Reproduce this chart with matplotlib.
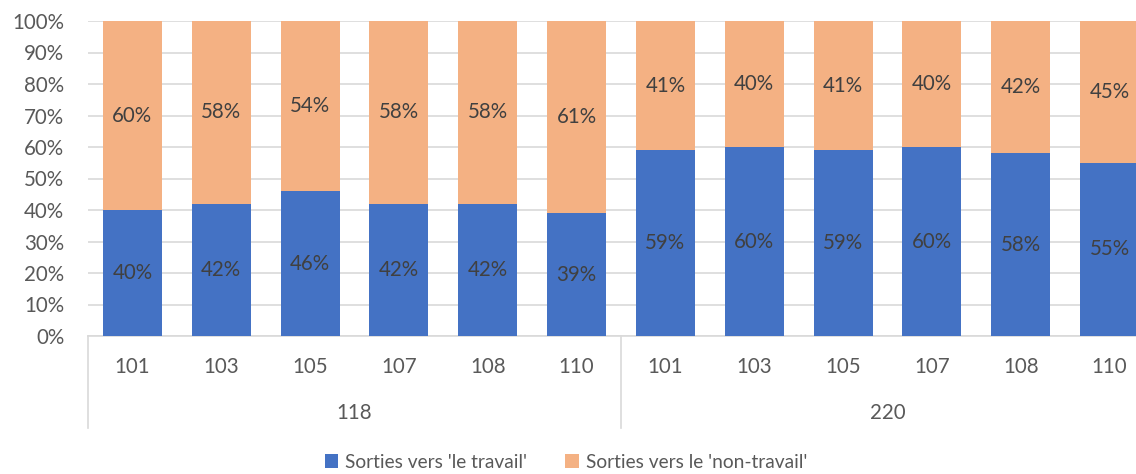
import matplotlib.pyplot as plt
import numpy as np

groups = ["118", "220"]
codes = ["101", "103", "105", "107", "108", "110"]
travail = [40, 42, 46, 42, 42, 39, 59, 60, 59, 60, 58, 55]
non_travail = [60, 58, 54, 58, 58, 61, 41, 40, 41, 40, 42, 45]

blue = "#4472C4"
orange = "#F4B183"
txt = "#595959"
fs = 14.8

plt.rcParams['font.family'] = ['Lato', 'DejaVu Sans']

fig = plt.figure(figsize=(11.36, 4.74), dpi=100)
ax = fig.add_axes([88 / 1136, 1 - 336 / 474, 1066 / 1136, 315 / 474])

x = np.arange(len(travail))
b1 = ax.bar(x, travail, width=0.665, color=blue, label="Sorties vers 'le travail'", zorder=3)
b2 = ax.bar(x, non_travail, width=0.665, bottom=travail, color=orange,
            label="Sorties vers le 'non-travail'", zorder=3)

for i in range(len(x)):
    ax.text(x[i], travail[i] / 2, f"{travail[i]}%", ha="center", va="center",
            fontsize=fs, color="#404040", zorder=4)
    ax.text(x[i], travail[i] + non_travail[i] / 2, f"{non_travail[i]}%", ha="center",
            va="center", fontsize=fs, color="#404040", zorder=4)

ax.set_xlim(-0.5, len(x) - 0.5)
ax.set_ylim(0, 100)
ax.set_yticks(range(0, 101, 10))
ax.set_yticklabels([f"{v}%" for v in range(0, 101, 10)])
ax.tick_params(axis="y", length=0, pad=17, labelsize=fs, labelcolor=txt)
ax.set_xticks([])
ax.grid(axis="y", color="#d9d9d9", linewidth=1.2, zorder=0)
for s in ["top", "right", "left"]:
    ax.spines[s].set_visible(False)
ax.spines["bottom"].set_color("#d9d9d9")
ax.spines["bottom"].set_linewidth(1.2)

trans = ax.get_xaxis_transform()
for i in range(len(x)):
    ax.text(x[i], -0.098, codes[i % len(codes)], transform=trans, ha="center",
            va="center", fontsize=fs, color=txt)
for g, name in enumerate(groups):
    ax.text(g * 6 + 2.5, -0.244, name, transform=trans, ha="center", va="center",
            fontsize=fs, color=txt)
for xs in [-0.5, 5.5, 11.5]:
    ax.plot([xs, xs], [0, -0.292], transform=trans, color="#d9d9d9",
            linewidth=1.2, clip_on=False)

fig.legend(handles=[b1, b2], loc="center", bbox_to_anchor=(566 / 1136, 12 / 474), ncol=2,
           frameon=False, fontsize=13.8, labelcolor=txt, handlelength=0.7,
           handleheight=0.7, handletextpad=0.35, columnspacing=2.0)

fig.savefig("out.png", dpi=100)
